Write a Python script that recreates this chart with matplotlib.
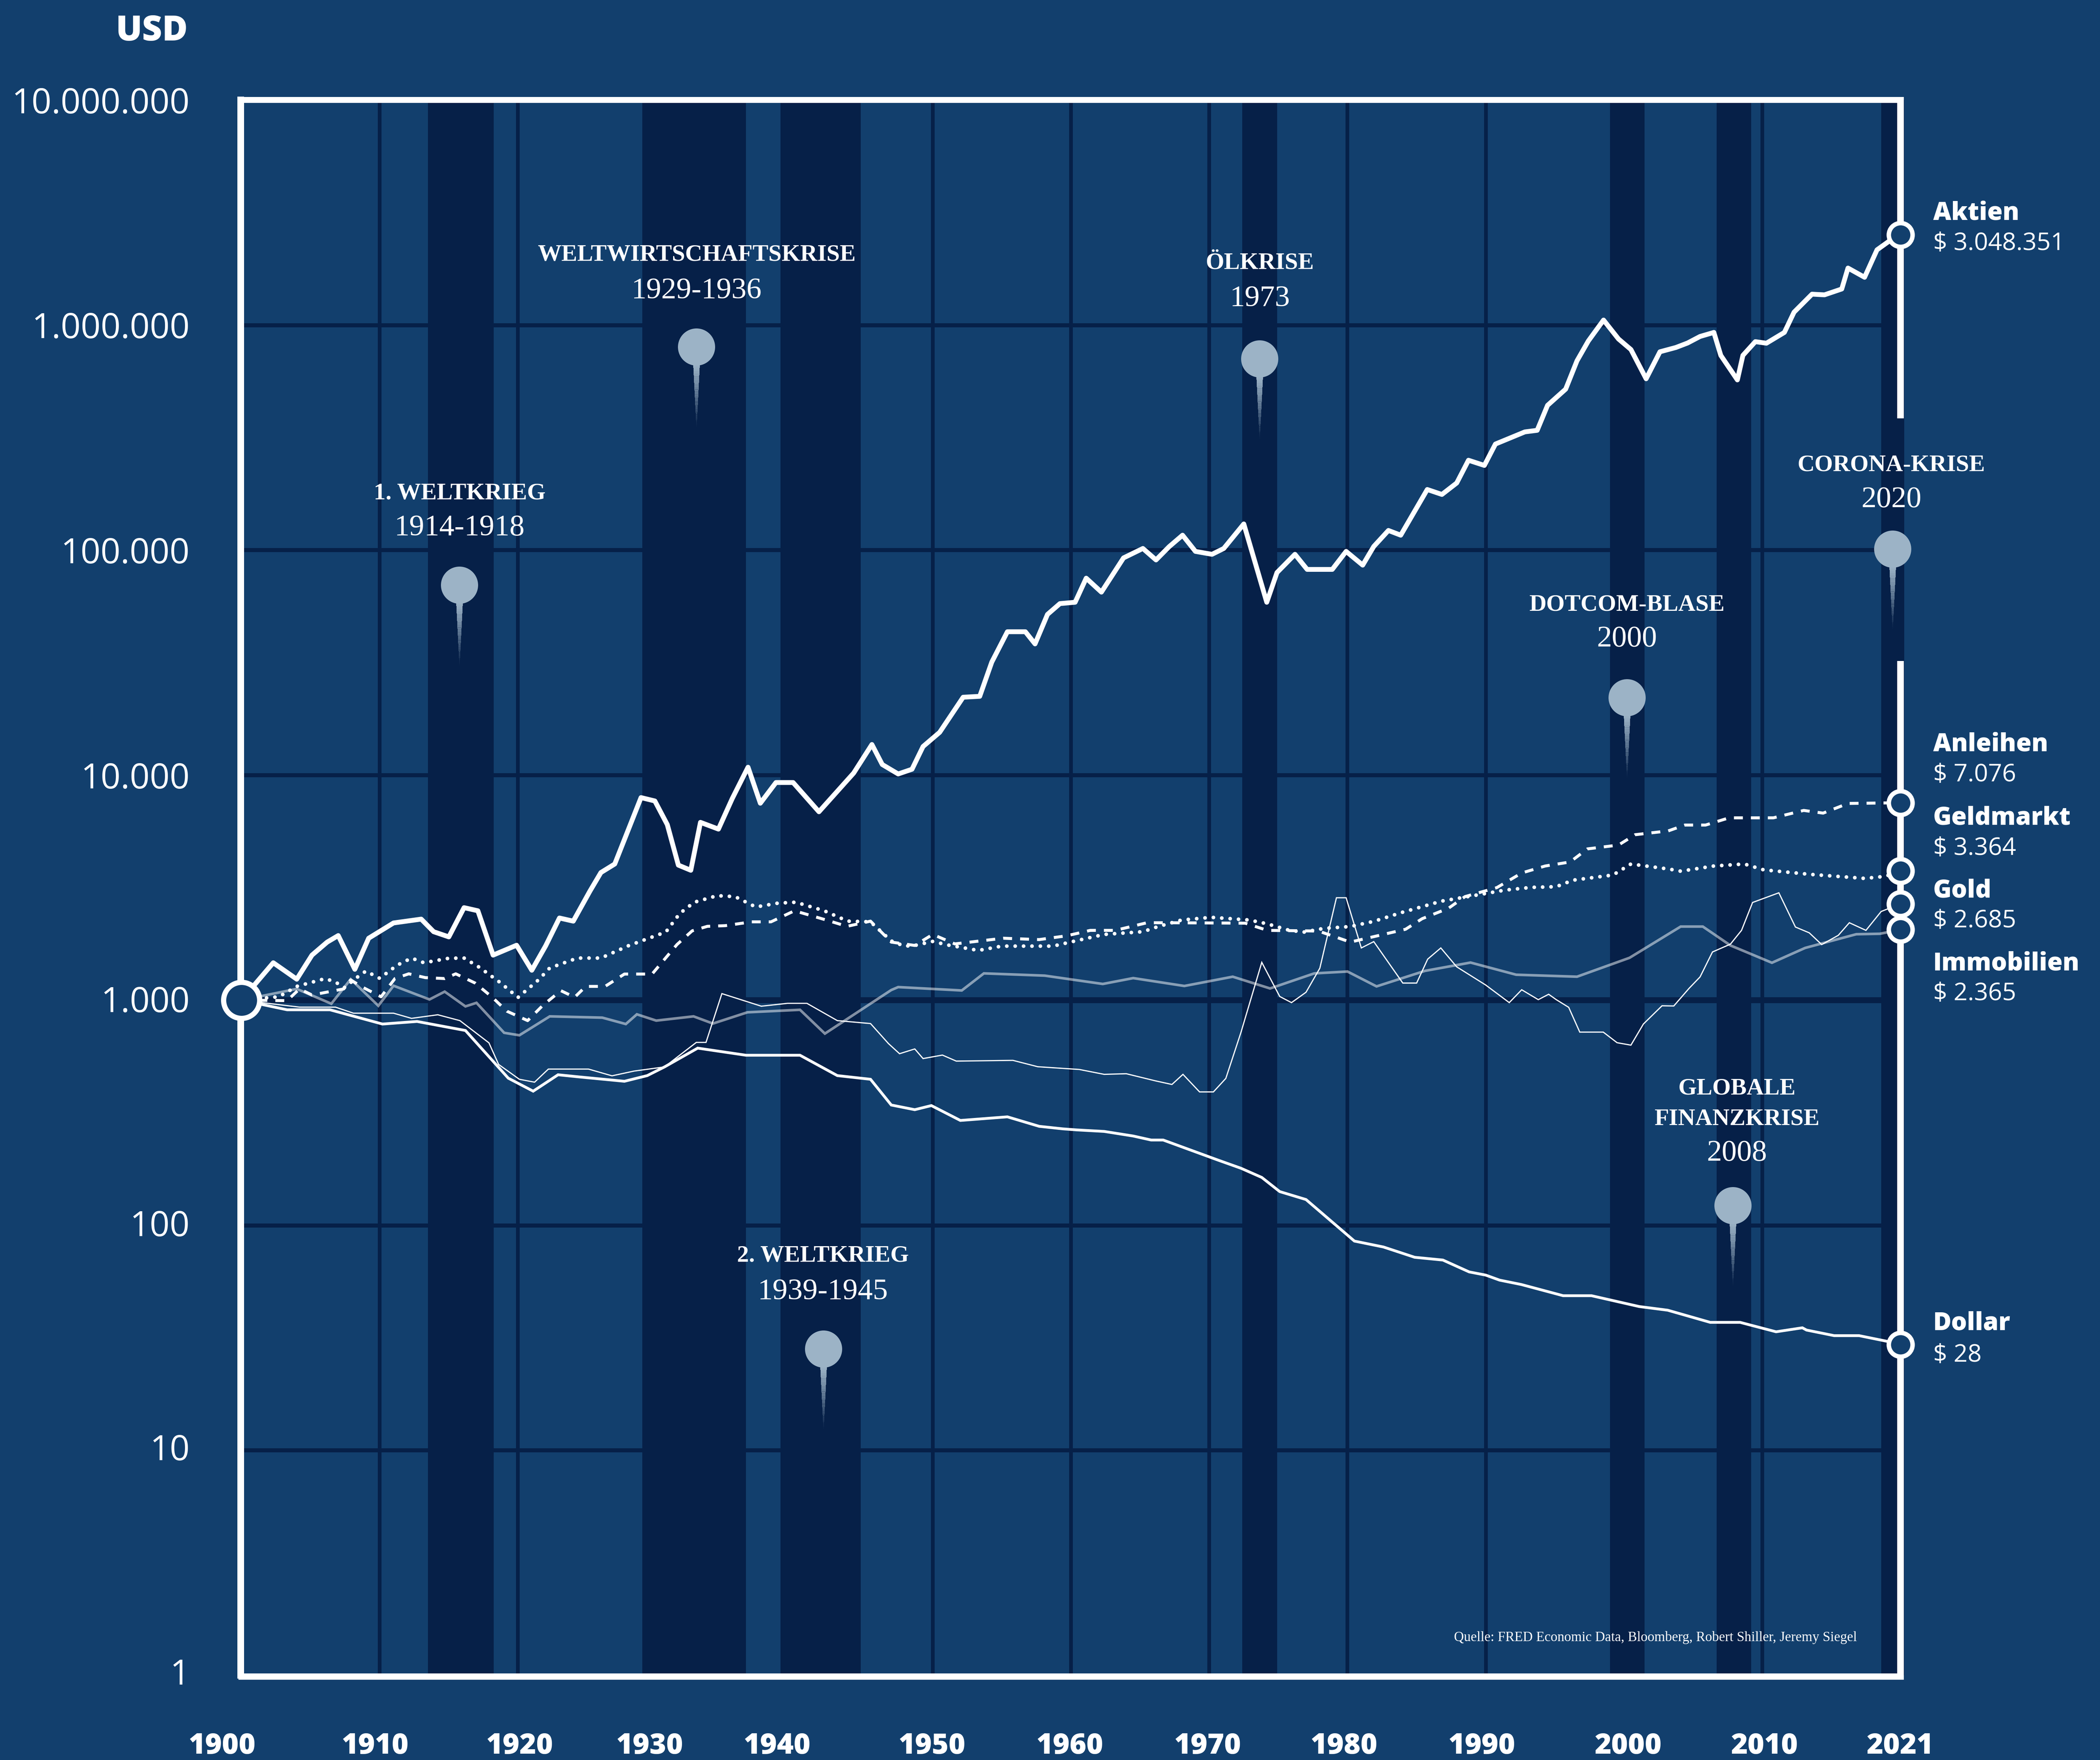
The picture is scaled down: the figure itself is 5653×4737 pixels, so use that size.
import matplotlib
matplotlib.use("Agg")
import matplotlib.pyplot as plt
from matplotlib.patches import Circle
from matplotlib.collections import PolyCollection
from matplotlib.ticker import NullLocator, FixedLocator, FixedFormatter
from matplotlib.transforms import ScaledTranslation
from matplotlib.colors import to_rgba

W, H, DPI = 5653, 4737, 300
BG, DARK, PIN, WHITE = "#123F6D", "#062048", "#9CB3C6", "#FFFFFF"
SANS, SERIF = "Open Sans", "Liberation Serif"
HEAVY = 800

aktien_x = [1900,1902.3,1904,1905.1,1906.2,1907,1908.2,1909.2,1911,1913,1913.9,1915,1916.1,1917.1,1918.2,1919.9,1921,1922,1923,1924,1925.2,1926,1927,1928.9,1929.9,1930.8,1931.6,1932.5,1933.2,1934.5,1935.5,1936.64,1937.53,1938.66,1939.9,1941.77,1944.28,1945.6,1946.35,1947.5,1948.5,1949.3,1950.5,1952.2,1953.4,1954.27,1955.4,1956.7,1957.4,1958.3,1959.2,1960.3,1961.1,1962.2,1963.8,1965.2,1966.15,1967.1,1968.07,1969,1970.2,1971.05,1972.5,1974.16,1974.9,1976.2,1977.08,1978.9,1979.9,1981.1,1981.9,1982.96,1983.85,1985.77,1986.83,1987.9,1988.75,1989.9,1990.7,1992.83,1993.72,1994.47,1995.78,1996.6,1997.42,1998.52,1999.6,2000.5,2001.6,2002.6,2003.75,2004.6,2005.5,2006.5,2007,2008.2,2008.6,2009.5,2010.3,2011.6,2012.3,2013.6,2014.5,2015.75,2016.2,2017.4,2018.3,2019.3,2020]
aktien_y = [1000,1466,1239,1585,1811,1936,1371,1884,2203,2291,2014,1910,2576,2495,1585,1754,1358,1742,2317,2244,3048,3690,4027,7943,7674,6026,3981,3776,6166,5754,7870,10839,7499,9268,9268,6871,10209,13677,11143,10116,10617,13397,15488,22182,22387,31769,43351,43351,38282,51761,57810,58614,74989,65013,92257,101625,90365,103514,116413,98628,95719,101625,130617,58614,79433,95719,82035,82035,98628,85704,103753,122180,116413,185780,176604,198609,250611,237684,295801,334965,340408,439542,518800,693426,849180,1051962,866962,778037,576766,760326,794328,831764,889201,926830,732825,570164,732825,843335,829851,926830,1140250,1370882,1361445,1445440,1790680,1629296,2157744,2387811,2511886]

anleihen_x = [1900,1903.3,1904.2,1905.1,1907.4,1907.9,1908.8,1910.1,1911.1,1912.1,1913.3,1914.7,1915.5,1916.9,1918.1,1919.2,1920.7,1921.8,1923.1,1924.1,1924.9,1926.3,1927.7,1929.7,1931.5,1932.6,1933.7,1935,1936.9,1938.3,1940,1942.3,1943.8,1945.5,1947,1948.7,1950,1951.6,1955.1,1957.7,1959.7,1961.4,1963.2,1965.5,1967,1972.6,1974.2,1977.9,1980.2,1984.2,1985.4,1987.3,1988.5,1990.8,1992.6,1994.3,1996.1,1997.35,1999.6,2000.8,2003.2,2004.4,2005.9,2007.6,2010.8,2013,2014.4,2016.2,2018.6,2020]
anleihen_y = [1000,995,1122,1054,1122,1230,1138,1035,1247,1309,1259,1247,1309,1191,1035,893,811,948,1102,1030,1151,1151,1306,1306,1766,2032,2128,2143,2228,2228,2495,2270,2128,2244,1811,1750,1959,1778,1884,1858,1932,2042,2042,2208,2208,2198,2042,2028,1811,2065,2301,2559,2884,3162,3673,3945,4111,4699,4887,5433,5649,5998,5998,6457,6457,6966,6776,7482,7516,7534]

geld_x = [1900,1902.7,1904,1906.06,1906.77,1907.45,1908.5,1909,1910,1911.25,1912.3,1913.2,1915,1916.1,1917.2,1918.7,1920,1921.5,1922.3,1924.3,1926,1928,1930.7,1931.7,1932.75,1934.4,1935.7,1937.2,1938.8,1940.1,1942.15,1943.85,1945.5,1947,1947.95,1948.7,1950,1951,1952.1,1953.3,1955,1958.7,1960.3,1962.4,1965.2,1966.3,1968,1970.15,1972.9,1974.2,1975.7,1976.8,1978.3,1980.2,1981.9,1984,1986.8,1988.7,1991.4,1993.3,1995.1,1996.3,1999.2,2000.5,2003.3,2004.1,2006.5,2008.7,2010.1,2013.45,2017.4,2018.9,2020]
geld_y = [1000,1035,1151,1247,1205,1138,1282,1346,1250,1429,1538,1466,1535,1538,1400,1199,1028,1233,1390,1538,1538,1746,2009,2427,2723,2911,2884,2594,2698,2723,2495,2244,2228,1832,1738,1750,1824,1762,1714,1663,1738,1738,1832,1959,2014,2123,2270,2333,2270,2183,2051,2004,2084,2123,2239,2460,2754,2884,3083,3170,3192,3412,3597,4027,3819,3741,3945,4027,3793,3622,3475,3548,3758]

gold_x = [1900,1904.2,1906.8,1908.1,1911,1912.3,1914.2,1915.8,1917.9,1918.6,1920.1,1921.2,1922.2,1925.1,1926.8,1928.4,1930.6,1932.9,1933.6,1934.75,1937.6,1939.5,1940.9,1943.1,1945.5,1946.8,1947.6,1948.7,1949.3,1950.7,1951.7,1955.8,1957.6,1960.6,1962.4,1964,1966.1,1967.3,1968.1,1969.3,1970.3,1971.2,1972.3,1973.8,1975.1,1975.95,1977,1978,1979.2,1979.9,1981,1981.9,1984,1985,1985.8,1986.75,1987.9,1990,1991.7,1992.6,1993.8,1994.55,1995.1,1996,1996.8,1998.5,1999.5,2000.5,2001.4,2002.75,2003.6,2004.7,2005.5,2006.4,2007.7,2008.5,2009.3,2011.2,2012.4,2013.4,2014.3,2015.5,2016.3,2017.5,2018.6,2020]
gold_y = [1000,931,931,875,875,830,861,811,646,518,445,432,494,494,461,484,505,649,649,1069,940,968,968,811,787,641,578,607,550,570,536,540,506,492,468,471,438,422,468,391,391,449,721,1472,1038,975,1084,1387,2851,2851,1706,1820,1191,1191,1521,1706,1406,1167,975,1112,1005,1062,1005,929,721,721,647,631,783,944,942,1127,1268,1637,1774,2042,2716,2999,2113,1991,1766,1941,2208,2042,2477,2679]

immo_x = [1900,1904,1906.5,1907.9,1909.9,1911,1913.6,1914.7,1916.2,1917,1919,1920.1,1922.3,1926.1,1927.8,1928.6,1930,1932.7,1934.1,1936.6,1940.4,1942.2,1947,1947.5,1952.1,1953.7,1958.1,1962.3,1964.5,1968.2,1971.7,1974.4,1977.6,1980,1982.1,1985.6,1988.9,1992.2,1996.6,2000.4,2004.1,2005.7,2007.7,2010.7,2013.1,2016.8,2018.5,2020]
immo_y = [1000,1122,964,1239,944,1159,1007,1091,938,973,716,698,847,836,783,865,811,847,787,883,906,710,1109,1143,1104,1315,1285,1180,1253,1156,1271,1127,1315,1340,1151,1349,1469,1297,1271,1542,2123,2123,1750,1466,1706,1963,1972,2056]

dollar_x = [1900,1903.3,1906.4,1910.2,1912.7,1916.2,1919.3,1921.1,1922.9,1924.4,1927.7,1929.35,1930.6,1933,1936.5,1940.4,1943.1,1945.5,1947,1948.7,1949.9,1952,1955.4,1957.7,1959.4,1960.45,1962.4,1964.5,1965.8,1966.67,1970.6,1972.3,1973.8,1975.1,1977,1980.5,1982.6,1984.86,1986.9,1988.8,1990,1991,1992.57,1995.6,1997.65,2001.1,2003.16,2006.24,2008.4,2011,2012.9,2013.2,2015.2,2017,2019,2020]
dollar_y = [1000,906,906,783,804,733,450,394,466,456,436,462,505,612,569,569,462,445,342,326,340,292,303,275,268,265,261,249,239,239,195,179,163,141,130,85,80,72,70,62,60,57,54.5,48.6,48.6,43.5,41.9,37,37,33.6,35,34.2,32.3,32.3,30.5,29.5]

band_start = [1913.5,1929,1939,1972.4,1999,2006.7,2018.6]
band_end = [1918.25,1936.5,1944.8,1974.9,2001.5,2009.2,2020.27]
x_ticks = [1900,1910,1920,1930,1940,1950,1960,1970,1980,1990,2000,2010,2020]
x_labels = ["1900","1910","1920","1930","1940","1950","1960","1970","1980","1990","2000","2010","2021"]
x_shift_px = [-52,-12,5,-17,-47,-2,-3,-4,-9,-10,11,6,-1]
y_ticks = [1,10,100,1000,10000,100000,1000000,10000000]
y_labels = ["1","10","100","1.000","10.000","100.000","1.000.000","10.000.000"]
y_shift_px = [11,9,6,3,0,0,0,0]

end_names = ["Aktien","Anleihen","Geldmarkt","Gold","Immobilien","Dollar"]
end_texts = ["$ 3.048.351","$ 7.076","$ 3.364","$ 2.685","$ 2.365","$ 28"]
end_name_base = [591,2022,2219,2415,2612,3580]
end_value_base = [673,2103,2301,2496,2692,3665]

events = [
    (["1. WELTKRIEG"],"1914-1918",1237,[1344],1441,(1237,1575)),
    (["WELTWIRTSCHAFTSKRISE"],"1929-1936",1875,[702],803,(1875,934)),
    (["ÖLKRISE"],"1973",3392,[724],824,(3391,966)),
    (["CORONA-KRISE"],"2020",5092,[1268],1365,(5095,1478)),
    (["DOTCOM-BLASE"],"2000",4380,[1643],1740,(4380,1878)),
    (["GLOBALE","FINANZKRISE"],"2008",4676,[2945,3028],3124,(4665,3245)),
    (["2. WELTKRIEG"],"1939-1945",2215,[3396],3497,(2217,3631)),
]

def pt(px):
    return px * 72 / DPI

plt.rcParams["font.family"] = [SANS, "DejaVu Sans"]
fig = plt.figure(figsize=(W / DPI, H / DPI), dpi=DPI, facecolor=BG)
ax = fig.add_axes([650 / W, (H - 4509) / H, (5116 - 650) / W, (4509 - 269) / H], facecolor=BG)
ax.set_yscale("log")
ax.set_xlim(1900, 2020)
ax.set_ylim(1, 1e7)

for side in ["left", "top", "bottom"]:
    ax.spines[side].set_color(WHITE)
ax.spines["left"].set_linewidth(pt(18))
ax.spines["left"].set_position(("outward", pt(2)))
ax.spines["top"].set_linewidth(pt(16))
ax.spines["bottom"].set_linewidth(pt(17))
ax.spines["bottom"].set_position(("outward", pt(3)))
ax.spines["right"].set_visible(False)

ax.set_axisbelow(True)
ax.set_xticks(x_ticks)
ax.set_xticklabels(x_labels)
ax.yaxis.set_major_locator(FixedLocator(y_ticks))
ax.yaxis.set_major_formatter(FixedFormatter(y_labels))
ax.yaxis.set_minor_locator(NullLocator())
ax.tick_params(axis="x", length=0, pad=pt(150), labelsize=pt(77), labelcolor=WHITE)
ax.tick_params(axis="y", length=0, pad=pt(137), labelsize=pt(94), labelcolor=WHITE)
ax.grid(True, axis="x", color=DARK, lw=pt(10))
ax.grid(True, axis="y", color=DARK, lw=pt(11))
ax.axhline(1000, color=DARK, lw=pt(16), zorder=0.9)
for tick, dx in zip(ax.xaxis.get_major_ticks(), x_shift_px):
    tick.label1.set_fontweight(HEAVY)
    tick.label1.set_transform(tick.label1.get_transform() + ScaledTranslation(dx / DPI, 0, fig.dpi_scale_trans))
for tick, dy in zip(ax.yaxis.get_major_ticks(), y_shift_px):
    tick.label1.set_transform(tick.label1.get_transform() + ScaledTranslation(0, dy / DPI, fig.dpi_scale_trans))

for a, b in zip(band_start, band_end):
    ax.axvspan(a, b, color=DARK, lw=0, zorder=1, clip_on=False)

for y0, y1 in [(0.97, 32137), (384600, 1.03e7)]:
    ax.plot([2020, 2020], [y0, y1], color=WHITE, lw=pt(18), solid_capstyle="butt", clip_on=False, zorder=2.6)

ax.plot(immo_x, immo_y, color=to_rgba(WHITE, 0.5), lw=pt(7), solid_joinstyle="miter", zorder=3)
ax.plot(gold_x, gold_y, color=WHITE, lw=pt(3.2), solid_joinstyle="miter", zorder=3.1)
ax.plot(dollar_x, dollar_y, color=WHITE, lw=pt(7.5), solid_joinstyle="miter", zorder=3.2)
ax.plot(anleihen_x, anleihen_y, color=WHITE, lw=pt(8), linestyle=(0, (3.0, 2.7)), dash_capstyle="butt", zorder=3.3)
ax.plot(geld_x, geld_y, color=WHITE, lw=pt(10), linestyle=(0, (0.01, 2.25)), dash_capstyle="round", zorder=3.4)
ax.plot(aktien_x, aktien_y, color=WHITE, lw=pt(13), solid_joinstyle="round", zorder=3.5)

for ys in [aktien_y, anleihen_y, geld_y, gold_y, immo_y, dollar_y]:
    ax.plot([2020], [ys[-1]], "o", ms=pt(64), mfc=BG, mec=WHITE, mew=pt(12), clip_on=False, zorder=5)
ax.plot([1900], [1000], "o", ms=pt(97), mfc=BG, mec=WHITE, mew=pt(14), clip_on=False, zorder=5)

ov = fig.add_axes([0, 0, 1, 1], facecolor="none", zorder=6)
ov.set_xlim(0, W)
ov.set_ylim(H, 0)
ov.axis("off")

ov.text(506, 109, "USD", fontsize=pt(94), fontweight=HEAVY, color=WHITE, ha="right", va="baseline")

for name, val, yn, yv in zip(end_names, end_texts, end_name_base, end_value_base):
    ov.text(5204, yn, name, fontsize=pt(67), fontweight=HEAVY, color=WHITE, ha="left", va="baseline")
    ov.text(5204, yv, val, fontsize=pt(66), color=WHITE, ha="left", va="baseline")

pin_rgba = to_rgba(PIN)
for titles, years, tx, tys, yy, (px, py) in events:
    for t, ty in zip(titles, tys):
        ov.text(tx, ty, t, family=SERIF, fontsize=pt(64), fontweight="bold", color=WHITE, ha="center", va="baseline")
    ov.text(tx, yy, years, family=SERIF, fontsize=pt(81), color=WHITE, ha="center", va="baseline")
    ov.add_patch(Circle((px, py), 50, fc=PIN, ec="none"))
    N, top, bot, w0 = 45, py + 46, py + 216, 8.5
    polys, cols = [], []
    for i in range(N):
        f0, f1 = i / N, (i + 1) / N
        y0, y1 = top + (bot - top) * f0, top + (bot - top) * f1
        polys.append([(px - w0 * (1 - f0), y0), (px + w0 * (1 - f0), y0), (px + w0 * (1 - f1), y1), (px - w0 * (1 - f1), y1)])
        cols.append((*pin_rgba[:3], (1 - f0) ** 1.1))
    ov.add_collection(PolyCollection(polys, facecolors=cols, edgecolors="none", antialiaseds=False))

ov.text(3914, 4417, "Quelle: FRED Economic Data, Bloomberg, Robert Shiller, Jeremy Siegel",
        family=SERIF, fontsize=pt(36.9), color=WHITE, ha="left", va="baseline")

fig.savefig("out.png", dpi=DPI, facecolor=BG)
